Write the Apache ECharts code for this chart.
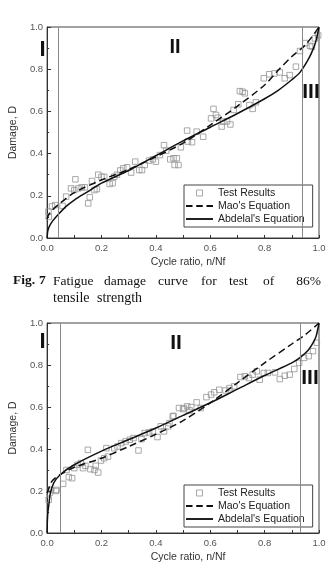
<!DOCTYPE html>
<html>
<head>
<meta charset="utf-8">
<script src="https://cdn.jsdelivr.net/npm/echarts@6/dist/echarts.min.js"></script>
<style>
html,body{margin:0;padding:0;background:#fff}
#chart{width:329px;height:568px}
</style>
</head>
<body>
<div id="chart"></div>
<script>
// Fig.7 - 86% tensile strength (top chart)
var test86 = [[0.005,0.125],[0.006,0.1],[0.018,0.15],[0.03,0.156],[0.057,0.152],[0.07,0.196],[0.088,0.235],[0.1,0.227],[0.104,0.278],[0.115,0.235],[0.127,0.24],[0.139,0.24],[0.151,0.164],[0.157,0.193],[0.165,0.27],[0.174,0.227],[0.183,0.232],[0.188,0.3],[0.2,0.29],[0.21,0.29],[0.23,0.256],[0.241,0.26],[0.247,0.29],[0.257,0.3],[0.269,0.32],[0.28,0.33],[0.294,0.335],[0.309,0.31],[0.324,0.362],[0.339,0.322],[0.349,0.322],[0.359,0.346],[0.375,0.367],[0.389,0.373],[0.4,0.362],[0.415,0.393],[0.43,0.44],[0.438,0.414],[0.453,0.373],[0.465,0.378],[0.469,0.346],[0.483,0.346],[0.477,0.378],[0.492,0.43],[0.515,0.509],[0.518,0.457],[0.533,0.454],[0.55,0.504],[0.574,0.48],[0.603,0.567],[0.612,0.612],[0.621,0.583],[0.627,0.57],[0.642,0.528],[0.648,0.551],[0.662,0.553],[0.674,0.538],[0.686,0.607],[0.703,0.634],[0.709,0.696],[0.719,0.693],[0.727,0.686],[0.744,0.63],[0.756,0.612],[0.768,0.643],[0.797,0.757],[0.817,0.776],[0.836,0.78],[0.856,0.785],[0.874,0.757],[0.892,0.772],[0.915,0.812],[0.93,0.886],[0.95,0.924],[0.967,0.911],[0.974,0.907],[0.985,0.946],[0.997,0.96]];
var mao86 = [[0,0.09],[0.01,0.12],[0.04,0.156],[0.1,0.215],[0.2,0.275],[0.3,0.325],[0.4,0.385],[0.5,0.45],[0.6,0.535],[0.7,0.625],[0.8,0.725],[0.85,0.795],[0.9,0.86],[0.95,0.915],[1,1]];
var abdelal86 = [[0,0],[0.002,0.03],[0.005,0.045],[0.01,0.06],[0.02,0.08],[0.04,0.11],[0.07,0.15],[0.1,0.18],[0.15,0.22],[0.2,0.26],[0.3,0.32],[0.4,0.39],[0.5,0.46],[0.6,0.525],[0.7,0.59],[0.8,0.66],[0.85,0.7],[0.9,0.75],[0.93,0.785],[0.96,0.845],[0.98,0.9],[0.99,0.94],[1,1]];
var stage86 = [0.04, 0.945];

// bottom chart
var test2 = [[0.006,0.158],[0.009,0.19],[0.014,0.205],[0.032,0.2],[0.035,0.205],[0.059,0.234],[0.08,0.266],[0.092,0.261],[0.071,0.3],[0.1,0.309],[0.112,0.325],[0.124,0.333],[0.132,0.309],[0.141,0.32],[0.15,0.396],[0.159,0.304],[0.174,0.3],[0.179,0.32],[0.188,0.288],[0.198,0.345],[0.21,0.356],[0.224,0.364],[0.218,0.404],[0.247,0.404],[0.259,0.412],[0.273,0.428],[0.289,0.436],[0.304,0.444],[0.318,0.452],[0.336,0.393],[0.347,0.447],[0.359,0.476],[0.375,0.479],[0.389,0.484],[0.406,0.457],[0.418,0.508],[0.43,0.484],[0.445,0.508],[0.45,0.523],[0.462,0.555],[0.465,0.558],[0.485,0.595],[0.5,0.59],[0.503,0.595],[0.515,0.603],[0.524,0.584],[0.53,0.6],[0.55,0.622],[0.565,0.595],[0.586,0.647],[0.603,0.659],[0.615,0.67],[0.633,0.682],[0.656,0.679],[0.671,0.69],[0.688,0.698],[0.711,0.743],[0.727,0.746],[0.742,0.738],[0.756,0.754],[0.771,0.77],[0.782,0.73],[0.797,0.762],[0.812,0.762],[0.838,0.765],[0.856,0.733],[0.874,0.749],[0.892,0.754],[0.909,0.781],[0.927,0.81],[0.945,0.834],[0.962,0.842],[0.978,0.866],[0.992,0.906]];
var mao2 = [[0,0.19],[0.01,0.225],[0.02,0.25],[0.047,0.277],[0.1,0.313],[0.2,0.356],[0.3,0.412],[0.4,0.47],[0.5,0.535],[0.6,0.62],[0.7,0.715],[0.8,0.81],[0.9,0.9],[0.95,0.945],[1,1]];
var abdelal2 = [[0,0],[0.001,0.06],[0.003,0.1],[0.006,0.13],[0.012,0.19],[0.025,0.24],[0.05,0.28],[0.1,0.325],[0.2,0.39],[0.3,0.445],[0.4,0.5],[0.5,0.56],[0.6,0.62],[0.7,0.685],[0.8,0.75],[0.9,0.81],[0.93,0.835],[0.96,0.87],[0.98,0.91],[0.99,0.94],[1,1]];
var stage2 = [0.046, 0.926];

var ticks = [0, 0.2, 0.4, 0.6, 0.8, 1.0];
var names = ['Test Results', "Mao's Equation", "Abdelal's Equation"];

var font = 'Liberation Sans, Arial, sans-serif';
var serif = 'Liberation Serif, Times New Roman, serif';

function xAx(idx) {
  return {
    type: 'value', gridIndex: idx, min: ticks[0], max: ticks[ticks.length - 1], interval: 0.2,
    name: 'Cycle ratio, n/Nf', nameLocation: 'middle', nameGap: 19,
    nameTextStyle: { fontFamily: font, fontSize: 10.5, color: '#333', padding: [0, 0, 0, 10] },
    axisLine: { lineStyle: { color: '#333' } },
    axisTick: { inside: true, length: 3, lineStyle: { color: '#333' } },
    minorTick: { show: true, splitNumber: 2, length: 3, lineStyle: { color: '#333' } },
    splitLine: { show: false },
    axisLabel: { margin: 5, fontFamily: font, fontSize: 9.5, color: '#555',
      formatter: function (v) { return v.toFixed(1); } }
  };
}
function yAx(idx) {
  return {
    type: 'value', gridIndex: idx, min: ticks[0], max: ticks[ticks.length - 1], interval: 0.2,
    name: 'Damage, D', nameLocation: 'middle', nameGap: 21,
    nameTextStyle: { fontFamily: font, fontSize: 10.5, color: '#333' },
    axisLine: { lineStyle: { color: '#333' } },
    axisTick: { inside: true, length: 4, lineStyle: { color: '#333' } },
    minorTick: { show: true, splitNumber: 2, length: 2, lineStyle: { color: '#333' } },
    splitLine: { show: false },
    axisLabel: { margin: 4, fontFamily: font, fontSize: 9.5, color: '#555',
      formatter: function (v) { return v.toFixed(1); } }
  };
}

function seriesFor(idx, test, mao, abd, stages) {
  return [
    {
      name: names[0], type: 'scatter', xAxisIndex: idx, yAxisIndex: idx, data: test,
      symbol: 'rect', symbolSize: 5.5,
      itemStyle: { color: 'rgba(255,255,255,0)', borderColor: '#949494', borderWidth: 1 },
      markLine: {
        silent: true, symbol: 'none', label: { show: false },
        lineStyle: { color: '#888', type: 'solid', width: 1 },
        data: stages.map(function (s) { return { xAxis: s }; })
      }
    },
    {
      name: names[1], type: 'line', xAxisIndex: idx, yAxisIndex: idx, data: mao,
      showSymbol: false, symbol: 'none', smooth: 0.3,
      lineStyle: { color: '#111', width: 1.5, type: [7, 4] }, itemStyle: { color: '#111' }
    },
    {
      name: names[2], type: 'line', xAxisIndex: idx, yAxisIndex: idx, data: abd,
      showSymbol: false, symbol: 'none', smooth: 0.3,
      lineStyle: { color: '#111', width: 1.5 }, itemStyle: { color: '#111' }
    }
  ];
}

// legend icons drawn as paths so they look like the printed key
var legendItems = [
  { name: names[0], icon: 'path://M0,0h10v10h-10z',
    itemStyle: { color: 'rgba(255,255,255,0)', borderColor: '#949494', borderWidth: 1 } },
  { name: names[1], icon: 'path://M0,0h7v2h-7zM11,0h7v2h-7zM22,0h7v2h-7z',
    itemStyle: { color: '#111', borderWidth: 0 } },
  { name: names[2], icon: 'path://M0,0h29v2h-29z',
    itemStyle: { color: '#111', borderWidth: 0 } }
];

function legendAt(top) {
  return {
    data: legendItems, orient: 'vertical', left: 184, top: top,
    itemWidth: 27, itemHeight: 6, itemGap: 1, padding: [2, 8, 2, 2],
    borderColor: '#444', borderWidth: 1, selectedMode: false,
    textStyle: { fontFamily: font, fontSize: 10.5, color: '#222', lineHeight: 12 }
  };
}

function txt(x, y, s, size, weight, family, align) {
  return {
    type: 'text', x: x, y: y, silent: true,
    style: { text: s, fontSize: size, fontWeight: weight || 'normal', fontFamily: family || font,
      fill: '#111', align: align || 'center', verticalAlign: 'middle' }
  };
}

var myChart = echarts.init(document.getElementById('chart'));
var option = {
  animation: false,
  backgroundColor: '#fff',
  grid: [
    { left: 36, top: 27, width: 283, height: 211, show: true, borderColor: '#444', borderWidth: 1 },
    { left: 36, top: 323, width: 283, height: 210, show: true, borderColor: '#444', borderWidth: 1 }
  ],
  xAxis: [xAx(0), xAx(1)],
  yAxis: [yAx(0), yAx(1)],
  legend: [legendAt(185), legendAt(485)],
  series: seriesFor(0, test86, mao86, abdelal86, stage86).concat(seriesFor(1, test2, mao2, abdelal2, stage2)),
  graphic: [
    txt(42.5, 50, 'I', 22, 'bold'),
    txt(175, 47, 'II', 20, 'bold'),
    txt(311, 92, 'III', 21, 'bold'),
    txt(42.5, 342, 'I', 22, 'bold'),
    txt(176, 343, 'II', 21, 'bold'),
    txt(310, 378, 'III', 21, 'bold'),
    // caption
    txt(13, 281, 'Fig.', 13.5, 'bold', serif, 'left'),
    txt(39, 281, '7', 13.5, 'bold', serif, 'left'),
    txt(53, 281, 'Fatigue', 13.5, 'normal', serif, 'left'),
    txt(104, 281, 'damage', 13.5, 'normal', serif, 'left'),
    txt(158, 281, 'curve', 13.5, 'normal', serif, 'left'),
    txt(201, 281, 'for', 13.5, 'normal', serif, 'left'),
    txt(229, 281, 'test', 13.5, 'normal', serif, 'left'),
    txt(263, 281, 'of', 13.5, 'normal', serif, 'left'),
    txt(321, 281, '86%', 13.5, 'normal', serif, 'right'),
    txt(53, 298, 'tensile', 14, 'normal', serif, 'left'),
    txt(97, 298, 'strength', 14, 'normal', serif, 'left')
  ]
};
myChart.setOption(option);
</script>
</body>
</html>
